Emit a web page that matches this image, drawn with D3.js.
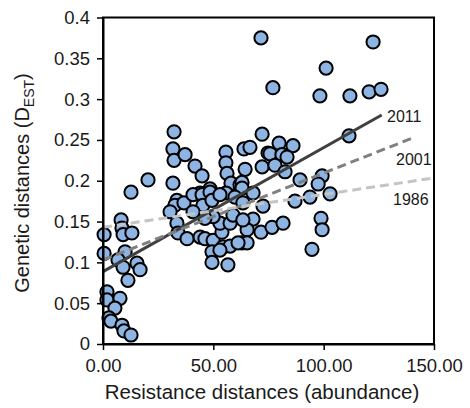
<!DOCTYPE html>
<html><head><meta charset="utf-8">
<script src="https://cdn.jsdelivr.net/npm/d3@7"></script>
<style>body{margin:0;background:#fff}svg{display:block}text{font-family:"Liberation Sans",Arial,sans-serif;fill:#1a1a1a}</style>
</head><body>
<script>
const xVals = [0.5,0.5,8.2,8.6,9.1,13.1,10.0,6.8,9.1,15.4,16.8,11.3,12.7,20.4,1.8,1.8,7.7,5.4,2.7,3.6,8.6,9.5,12.7,
32.2,31.7,32.2,37.2,41.7,44.9,31.7,55.7,55.7,56.2,63.9,66.6,64.4,72.1,74.8,58.0,62.1,48.5,55.7,44.0,33.5,
71.6,122.4,101.1,77.0,98.3,111.9,120.6,126.0,111.5,72.1,79.8,86.1,75.7,81.1,83.4,77.9,82.5,89.3,99.3,97.5,102.9,
63.0,63.0,68.0,93.8,87.0,72.5,98.8,99.3,94.7,68.0,65.3,71.6,76.6,81.6,63.0,65.3,
32.6,36.7,40.8,44.9,48.5,45.3,49.4,53.0,59.8,33.5,34.0,38.1,44.0,46.2,49.9,53.9,53.0,57.6,58.9,63.4,49.9,54.4,57.6,61.2,49.4,53.0,49.4,56.6,40.8,46.2,30.4,63.4];
const yVals = [0.134,0.111,0.152,0.142,0.134,0.136,0.113,0.103,0.094,0.099,0.091,0.078,0.186,0.201,0.064,0.054,0.056,0.044,0.032,0.028,0.023,0.016,0.011,
0.260,0.239,0.225,0.232,0.218,0.206,0.197,0.235,0.222,0.209,0.239,0.241,0.214,0.217,0.234,0.197,0.195,0.190,0.185,0.185,0.176,
0.375,0.370,0.338,0.314,0.304,0.304,0.309,0.312,0.255,0.257,0.246,0.243,0.233,0.232,0.229,0.219,0.211,0.201,0.206,0.196,0.184,
0.198,0.191,0.185,0.180,0.175,0.169,0.154,0.140,0.116,0.153,0.140,0.137,0.143,0.148,0.124,0.124,
0.170,0.173,0.183,0.183,0.186,0.170,0.176,0.183,0.180,0.148,0.136,0.129,0.131,0.129,0.127,0.137,0.148,0.148,0.158,0.152,0.156,0.119,0.120,0.124,0.113,0.115,0.100,0.097,0.162,0.154,0.162,0.173];

const trendNames = ["2011","2001","1986"];
const trendX0 = [0,0,0];
const trendY0 = [0.0886,0.1029,0.143];
const trendX1 = [126.3,140.6,149.0];
const trendY1 = [0.2805,0.2527,0.203];

const xTicks = [0,50,100,150];
const xTickLabels = ["0.00","50.00","100.00","150.00"];
const yTicks = [0,0.05,0.1,0.15,0.2,0.25,0.3,0.35,0.4];
const yTickLabels = ["0","0.05","0.1","0.15","0.2","0.25","0.3","0.35","0.4"];

const W=470,H=408;
const svg=d3.select("body").append("svg").attr("width",W).attr("height",H);
const x=d3.scaleLinear().domain([0,150]).range([103,434]);
const y=d3.scaleLinear().domain([0,0.4]).range([344,17.5]);

const trendStyle={"2011":{c:"#404040",d:null},"2001":{c:"#808080",d:"9,5"},"1986":{c:"#c4c4c4",d:"9,5"}};

// points
svg.append("g").selectAll("circle").data(xVals.map((v,i)=>[v,yVals[i]])).join("circle")
 .attr("cx",d=>x(d[0])).attr("cy",d=>y(d[1])).attr("r",6.6)
 .attr("fill","#8db4e3").attr("stroke","#000").attr("stroke-width",2);

// trend lines
trendNames.forEach((n,i)=>{
  svg.append("line").attr("x1",x(trendX0[i])).attr("y1",y(trendY0[i]))
   .attr("x2",x(trendX1[i])).attr("y2",y(trendY1[i]))
   .attr("stroke",trendStyle[n].c).attr("stroke-width",3)
   .attr("stroke-dasharray",trendStyle[n].d);
});
// trend labels
const labelPos={"2011":[387,122],"2001":[396,165],"1986":[393,205]};
trendNames.forEach(n=>{
  svg.append("text").attr("x",labelPos[n][0]).attr("y",labelPos[n][1]).attr("font-size",16).text(n);
});

// frame
svg.append("rect").attr("x",103).attr("y",17.5).attr("width",331).attr("height",326.5)
 .attr("fill","none").attr("stroke","#000").attr("stroke-width",2);

// axes
const xAxis=d3.axisBottom(x).tickValues(xTicks).tickFormat((d,i)=>xTickLabels[i]).tickSize(6).tickSizeOuter(0);
const gx=svg.append("g").attr("transform","translate(0,344)").call(xAxis);
gx.select(".domain").attr("stroke","#000").attr("stroke-width",2);
gx.selectAll(".tick line").attr("stroke","#000").attr("stroke-width",1.5);
gx.selectAll(".tick text").attr("font-size",18.5).attr("dy","1em").attr("y",9).style("font-family","Liberation Sans, Arial, sans-serif").attr("fill","#1a1a1a");

const yAxis=d3.axisLeft(y).tickValues(yTicks).tickFormat((d,i)=>yTickLabels[i]).tickSize(6).tickSizeOuter(0);
const gy=svg.append("g").attr("transform","translate(103,0)").call(yAxis);
gy.select(".domain").attr("stroke","#000").attr("stroke-width",2);
gy.selectAll(".tick line").attr("stroke","#000").attr("stroke-width",1.5);
gy.selectAll(".tick text").attr("font-size",18.5).attr("x",-13).style("font-family","Liberation Sans, Arial, sans-serif").attr("fill","#1a1a1a");

// titles
svg.append("text").attr("x",262).attr("y",399).attr("text-anchor","middle").attr("font-size",20.5)
 .text("Resistance distances (abundance)");
const yt=svg.append("text").attr("transform","translate(29,183) rotate(-90)").attr("text-anchor","middle").attr("font-size",20);
yt.append("tspan").text("Genetic distances (D");
yt.append("tspan").attr("font-size",14).attr("dy",5).text("EST");
yt.append("tspan").attr("dy",-5).text(")");
</script>
</body></html>
